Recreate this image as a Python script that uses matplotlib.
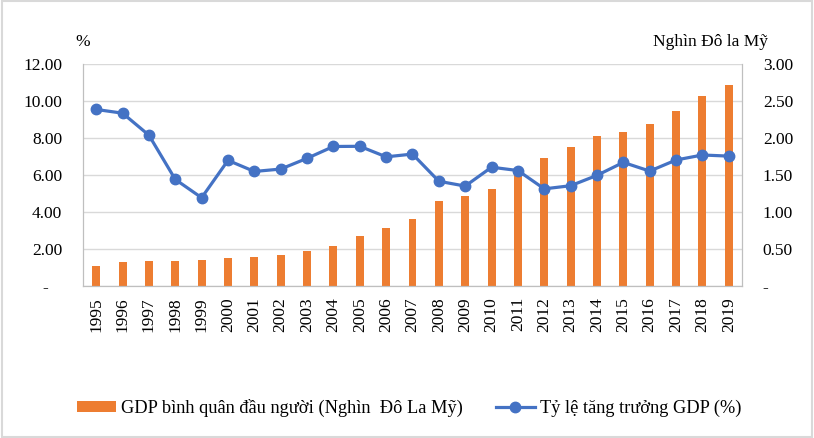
import numpy as np
import matplotlib.pyplot as plt
from matplotlib.patches import Rectangle

plt.rcParams['font.family'] = ['Liberation Serif', 'DejaVu Serif']

years = [str(y) for y in range(1995, 2020)]
# GDP per capita, thousand USD (right axis)
gdp_pc = [0.27, 0.32, 0.34, 0.34, 0.35, 0.38, 0.39, 0.42, 0.47, 0.54,
          0.68, 0.78, 0.91, 1.15, 1.22, 1.31, 1.53, 1.73, 1.88, 2.03,
          2.08, 2.19, 2.37, 2.57, 2.72]
# GDP growth, % (left axis)
growth = [9.54, 9.34, 8.15, 5.76, 4.77, 6.79, 6.19, 6.32, 6.90, 7.54,
          7.55, 6.98, 7.13, 5.66, 5.40, 6.42, 6.24, 5.25, 5.42, 5.98,
          6.68, 6.21, 6.81, 7.08, 7.02]

left_ticks = [0, 2, 4, 6, 8, 10, 12]
right_ticks = [0, 0.5, 1.0, 1.5, 2.0, 2.5, 3.0]

fig = plt.figure(figsize=(8.14, 4.38), dpi=100)
ax = fig.add_axes([0.102, 0.347, 0.8095, 0.507])
x = np.arange(len(years))

# bars on the base axes (right scale), line on the twin (left scale) so it sits on top
ax.bar(x, gdp_pc, width=0.3, color='#ED7D31', zorder=2,
       label='GDP bình quân đầu người (Nghìn  Đô La Mỹ)')
ax.set_ylim(0, 3)
ax.set_xlim(-0.5, len(years) - 0.5)
ax.grid(axis='y', color='#D9D9D9', linewidth=1)
ax.set_axisbelow(True)
ax.set_xticks(x)
ax.set_xticklabels(years, rotation=90)

ax2 = ax.twinx()
ax2.plot(x, growth, color='#4472C4', linewidth=2.3, marker='o', markersize=7.5,
         label='Tỷ lệ tăng trưởng GDP (%)', zorder=3)
ax2.set_ylim(0, 12)

# twinx moves the base ticks to the left, so swap sides afterwards
ax.yaxis.tick_right()
ax2.yaxis.tick_left()
ax.set_yticks(right_ticks)
ax.set_yticklabels(['-'] + ['%.2f' % v for v in right_ticks[1:]])
ax2.set_yticks(left_ticks)
ax2.set_yticklabels(['-   '] + ['%.2f' % v for v in left_ticks[1:]])

for a in (ax, ax2):
    for s in a.spines.values():
        s.set_color('#BFBFBF')
    a.spines['top'].set_visible(False)
    a.tick_params(length=0, labelsize=12.5, colors='black')
ax.tick_params(axis='y', pad=15)
ax2.tick_params(axis='y', pad=15)
ax.tick_params(axis='x', pad=8)

fig.text(0.102, 0.905, '%', fontsize=12.5, ha='center', va='center')
fig.text(0.943, 0.905, 'Nghìn Đô la Mỹ', fontsize=12.5, ha='right', va='center')

h1, l1 = ax.get_legend_handles_labels()
h2, l2 = ax2.get_legend_handles_labels()
fig.legend(h1 + h2, l1 + l2, loc='center', bbox_to_anchor=(0.503, 0.068),
           ncol=2, frameon=False, fontsize=13.2, handlelength=2.1,
           handleheight=0.5, columnspacing=1.8, handletextpad=0.3)

fig.patches.append(Rectangle((0.002, 0.003), 0.996, 0.994, transform=fig.transFigure,
                             fill=False, edgecolor='#D9D9D9', linewidth=1.5))

fig.savefig('out.png', dpi=100)
